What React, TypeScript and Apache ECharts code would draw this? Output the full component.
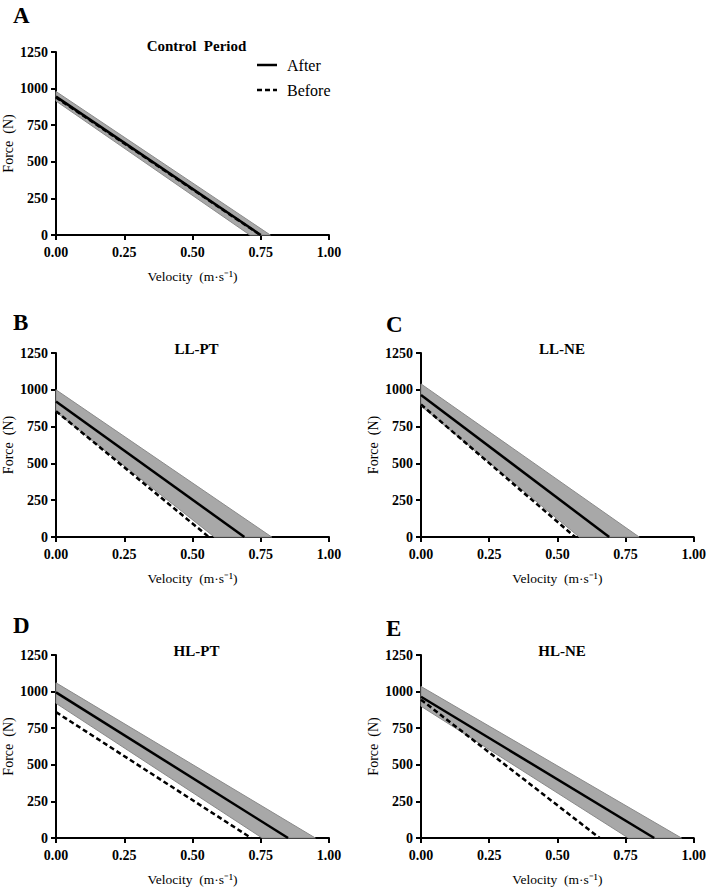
import React, { useEffect, useRef } from "react";
import * as echarts from "echarts";

// ---- data ----
const panelLetters = ["A", "B", "C", "D", "E"];
const panelTitles = ["Control  Period", "LL-PT", "LL-NE", "HL-PT", "HL-NE"];
// Force intercept (N) and velocity intercept (m·s-1) of each regression line
const afterF0 = [945, 920, 965, 995, 965];
const afterV0 = [0.75, 0.69, 0.69, 0.85, 0.855];
const beforeF0 = [940, 855, 900, 860, 945];
const beforeV0 = [0.748, 0.56, 0.565, 0.715, 0.655];
// confidence band of the "After" line
const bandUpperF0 = [980, 1000, 1040, 1060, 1035];
const bandUpperV0 = [0.785, 0.79, 0.8, 0.95, 0.955];
const bandLowerF0 = [915, 850, 890, 920, 900];
const bandLowerV0 = [0.71, 0.58, 0.58, 0.755, 0.76];
const xTicks = [0, 0.25, 0.5, 0.75, 1.0];
const yTicks = [0, 250, 500, 750, 1000, 1250];
const seriesNames = ["After", "Before"];

// ---- layout (pixels) ----
const grids = [
  { left: 56, top: 52, width: 273, height: 183 },
  { left: 56, top: 353, width: 273, height: 184 },
  { left: 421, top: 353, width: 274, height: 184 },
  { left: 56, top: 655, width: 273, height: 183 },
  { left: 421, top: 655, width: 274, height: 183 },
];
const letterPos = [
  [13, 15],
  [13, 322],
  [386, 324],
  [13, 625],
  [386, 628],
];

const SERIF = '"Liberation Serif", "Times New Roman", serif';

export default function App() {
  const ref = useRef<HTMLDivElement>(null);
  useEffect(() => {
    if (!ref.current) return;
    const chart = echarts.init(ref.current, null, { renderer: "svg" });
    const axisCommon = {
      axisLine: { show: true, onZero: false, lineStyle: { color: "#000", width: 2 } },
      axisTick: { show: true, inside: false, length: 5, lineStyle: { color: "#000", width: 2 } },
      splitLine: { show: false },
    };
    const xAxes = grids.map((_, i) => ({
      type: "value",
      gridIndex: i,
      min: xTicks[0],
      max: xTicks[xTicks.length - 1],
      interval: xTicks[1] - xTicks[0],
      ...axisCommon,
      axisLabel: {
        color: "#000",
        fontFamily: SERIF,
        fontWeight: "bold",
        fontSize: 14,
        margin: 10,
        formatter: (v: number) => v.toFixed(2),
      },
      name: "Velocity  (m·s⁻¹)",
      nameLocation: "middle",
      nameGap: 34,
      nameTextStyle: { color: "#000", fontFamily: SERIF, fontSize: 13.5 },
    }));
    const yAxes = grids.map((_, i) => ({
      type: "value",
      gridIndex: i,
      min: yTicks[0],
      max: yTicks[yTicks.length - 1],
      interval: yTicks[1] - yTicks[0],
      ...axisCommon,
      axisLabel: {
        color: "#000",
        fontFamily: SERIF,
        fontWeight: "bold",
        fontSize: 14,
        margin: 8,
        formatter: (v: number) => String(v),
      },
      name: "Force  (N)",
      nameLocation: "middle",
      nameGap: 41,
      nameTextStyle: { color: "#000", fontFamily: SERIF, fontSize: 14 },
    }));

    const series: any[] = [];
    grids.forEach((_, i) => {
      series.push({
        type: "custom",
        xAxisIndex: i,
        yAxisIndex: i,
        silent: true,
        z: 1,
        data: [[bandUpperF0[i], bandUpperV0[i], bandLowerF0[i], bandLowerV0[i]]],
        encode: { x: 1, y: 0 },
        renderItem: (params: any, api: any) => {
          const pts = [
            api.coord([0, api.value(0)]),
            api.coord([api.value(1), 0]),
            api.coord([api.value(3), 0]),
            api.coord([0, api.value(2)]),
          ];
          return {
            type: "polygon",
            shape: { points: pts },
            style: { fill: "#a8a8a8", stroke: "#8a8a8a", lineWidth: 1 },
          };
        },
      });
      series.push({
        type: "line",
        name: seriesNames[1],
        xAxisIndex: i,
        yAxisIndex: i,
        symbol: "none",
        z: 2,
        data: [
          [0, beforeF0[i]],
          [beforeV0[i], 0],
        ],
        lineStyle: { color: "#000", width: 2.5, type: [5, 3] },
        itemStyle: { color: "#000" },
      });
      series.push({
        type: "line",
        name: seriesNames[0],
        xAxisIndex: i,
        yAxisIndex: i,
        symbol: "none",
        z: 3,
        data: [
          [0, afterF0[i]],
          [afterV0[i], 0],
        ],
        lineStyle: { color: "#000", width: 2.5, type: "solid" },
        itemStyle: { color: "#000" },
      });
    });

    const graphics: any[] = [];
    grids.forEach((g, i) => {
      graphics.push({
        type: "text",
        x: letterPos[i][0],
        y: letterPos[i][1],
        style: {
          text: panelLetters[i],
          fill: "#000",
          font: `bold 23px ${SERIF}`,
          textAlign: "left",
          textVerticalAlign: "middle",
        },
      });
      graphics.push({
        type: "text",
        x: g.left + g.width / 2 + 4,
        y: g.top - (i === 0 ? 6 : 4),
        style: {
          text: panelTitles[i],
          fill: "#000",
          font: `bold 15px ${SERIF}`,
          textAlign: "center",
          textVerticalAlign: "middle",
        },
      });
    });
    // legend of panel A (line keys + labels)
    const legendY = [65, 90];
    seriesNames.forEach((name, k) => {
      graphics.push({
        type: "line",
        shape: { x1: 257, y1: legendY[k], x2: 277, y2: legendY[k] },
        style: { stroke: "#000", lineWidth: 2.5, lineDash: k === 0 ? null : [5, 3] },
      });
      graphics.push({
        type: "text",
        x: 287,
        y: legendY[k],
        style: {
          text: name,
          fill: "#000",
          font: `16px ${SERIF}`,
          textAlign: "left",
          textVerticalAlign: "middle",
        },
      });
    });

    chart.setOption({
      animation: false,
      backgroundColor: "#fff",
      grid: grids.map((g) => ({ ...g, containLabel: false })),
      xAxis: xAxes,
      yAxis: yAxes,
      series,
      graphic: graphics,
    });
    return () => chart.dispose();
  }, []);
  return (
    <div
      ref={ref}
      style={{ position: "fixed", left: 0, top: 0, width: 709, height: 890, background: "#fff" }}
    />
  );
}
